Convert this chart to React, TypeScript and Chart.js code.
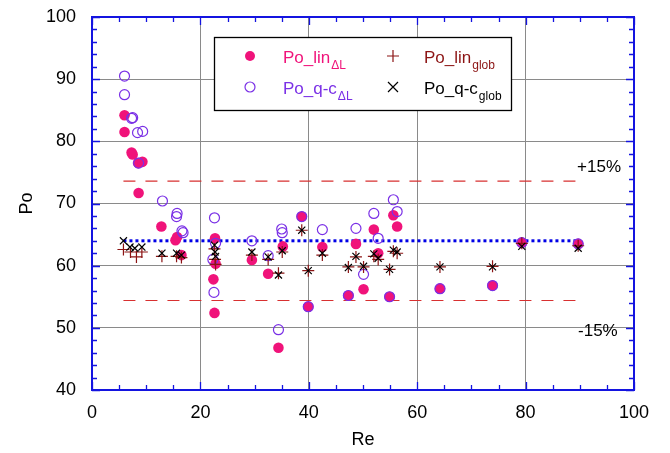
import React, { useEffect, useRef } from 'react';
import { Chart, registerables } from 'chart.js';

Chart.register(...registerables);

// ---------- data ----------
const xTickValues = [0, 20, 40, 60, 80, 100];
const yTickValues = [40, 50, 60, 70, 80, 90, 100];

const linDLx = [6.0, 6.0, 7.3, 7.5, 8.5, 9.3, 8.6, 12.8, 15.4, 15.7, 16.5, 22.7, 22.8, 22.4, 22.6, 29.5, 32.5, 35.2, 34.4, 38.7, 39.9, 42.5, 47.3, 48.7, 50.1, 52.0, 52.8, 55.6, 56.3, 54.9, 64.2, 73.9, 79.3, 89.7];
const linDLy = [84.2, 81.5, 78.2, 77.9, 76.5, 76.7, 71.7, 66.3, 64.1, 64.6, 61.7, 64.4, 60.3, 57.8, 52.4, 60.9, 58.7, 63.1, 46.8, 67.9, 53.4, 63.0, 55.2, 63.5, 56.2, 65.8, 62.0, 68.1, 66.3, 55.0, 56.3, 56.8, 63.7, 63.5];

const qcDLx = [6.0, 6.0, 7.3, 7.5, 8.4, 9.35, 8.6, 13.0, 15.7, 15.6, 16.6, 16.8, 22.6, 22.8, 22.3, 22.5, 29.5, 32.5, 35.0, 35.1, 34.4, 38.7, 39.9, 42.5, 47.3, 48.7, 50.1, 52.0, 52.8, 55.6, 56.3, 54.9, 64.2, 73.9, 79.3, 89.7];
const qcDLy = [90.5, 87.5, 83.7, 83.8, 81.4, 81.6, 76.5, 70.4, 68.4, 67.9, 65.6, 65.3, 67.7, 63.6, 61.0, 55.7, 64.0, 61.6, 65.9, 65.3, 49.7, 67.9, 53.4, 65.8, 55.2, 66.0, 58.6, 68.4, 64.4, 70.6, 68.7, 55.0, 56.3, 56.8, 63.7, 63.5];

const linGlobX = [5.8, 7.1, 8.2, 9.2, 12.9, 15.6, 16.5, 22.6, 22.7, 22.8, 29.5, 32.5, 35.1, 34.4, 38.7, 39.9, 42.5, 47.3, 48.7, 50.1, 52.0, 52.8, 55.6, 56.3, 54.9, 64.2, 73.9, 79.3, 89.7];
const linGlobY = [62.6, 62.2, 61.4, 62.2, 61.5, 61.5, 61.3, 62.7, 61.0, 60.2, 61.7, 61.0, 62.2, 58.8, 65.7, 59.2, 61.7, 59.8, 61.4, 59.8, 61.5, 61.0, 62.3, 62.0, 59.4, 59.8, 59.9, 63.6, 63.2];

const qcGlobX = [5.8, 7.0, 7.9, 9.2, 12.9, 15.6, 16.5, 22.6, 22.7, 22.8, 29.5, 32.5, 35.1, 34.4, 38.7, 39.9, 42.5, 47.3, 48.7, 50.1, 52.0, 52.8, 55.6, 56.3, 54.9, 64.2, 73.9, 79.3, 89.7];
const qcGlobY = [64.0, 63.0, 62.8, 63.0, 62.0, 62.0, 61.7, 63.3, 62.2, 61.5, 62.2, 61.4, 62.4, 58.5, 65.7, 59.2, 62.0, 59.7, 61.5, 59.9, 61.9, 61.2, 62.5, 62.2, 59.4, 59.8, 59.8, 63.1, 62.8];

const refLineX = [5.8, 89.7];
const refValue = 64;
const upperValue = 73.6;
const lowerValue = 54.4;

const bandLabels = ['+15%', '-15%'];
const bandLabelX = [97.6, 97.0];
const bandLabelY = [75.8, 49.4];

// ---------- styles ----------
const PINK = '#f0137a';
const PURPLE = '#7a30e6';
const DARKRED = '#8c1414';
const AXIS = '#1414e0';
const FONT = "'Liberation Sans', Arial, Helvetica, sans-serif";

const pts = (xs: number[], ys: number[]) => xs.map((x, i) => ({ x, y: ys[i] }));

const framePlugin = {
  id: 'frame',
  afterDatasetsDraw(chart: any) {
    const { ctx, chartArea: a, scales } = chart;
    const x = scales.x;
    const y = scales.y;
    ctx.save();
    ctx.strokeStyle = AXIS;
    ctx.lineWidth = 1.3;
    ctx.beginPath();
    for (let v = 0; v <= 100; v += 5) {
      const px = Math.round(x.getPixelForValue(v)) + 0.5;
      const len = v % 20 === 0 ? 8 : 5;
      ctx.moveTo(px, a.bottom);
      ctx.lineTo(px, a.bottom - len);
      ctx.moveTo(px, a.top);
      ctx.lineTo(px, a.top + len);
    }
    for (let v = 40; v <= 100; v += 2) {
      const py = Math.round(y.getPixelForValue(v)) + 0.5;
      const len = v % 10 === 0 ? 8 : 5;
      ctx.moveTo(a.left, py);
      ctx.lineTo(a.left + len, py);
      ctx.moveTo(a.right, py);
      ctx.lineTo(a.right - len, py);
    }
    ctx.stroke();
    ctx.lineWidth = 2;
    ctx.strokeRect(a.left, a.top, a.right - a.left, a.bottom - a.top);
    ctx.restore();
  },
};

const textPlugin = {
  id: 'texts',
  afterDraw(chart: any) {
    const { ctx, scales } = chart;
    const x = scales.x;
    const y = scales.y;
    ctx.save();
    // band labels
    ctx.font = `17px ${FONT}`;
    ctx.fillStyle = '#000';
    ctx.textAlign = 'right';
    ctx.textBaseline = 'middle';
    bandLabels.forEach((t, i) => {
      ctx.fillText(t, x.getPixelForValue(bandLabelX[i]), y.getPixelForValue(bandLabelY[i]));
    });

    // legend box
    const L = 214, T = 37, R = 511, B = 110;
    ctx.fillStyle = '#fff';
    ctx.fillRect(L, T, R - L, B - T);
    ctx.strokeStyle = '#000';
    ctx.lineWidth = 1.3;
    ctx.strokeRect(L + 0.5, T + 0.5, R - L, B - T);

    const rows = [56, 87];
    ctx.beginPath();
    ctx.fillStyle = PINK;
    ctx.arc(250, rows[0], 5, 0, Math.PI * 2);
    ctx.fill();
    ctx.beginPath();
    ctx.strokeStyle = PURPLE;
    ctx.lineWidth = 1.2;
    ctx.arc(250, rows[1], 5, 0, Math.PI * 2);
    ctx.stroke();
    ctx.beginPath();
    ctx.strokeStyle = DARKRED;
    ctx.lineWidth = 1.2;
    ctx.moveTo(393, rows[0] - 6);
    ctx.lineTo(393, rows[0] + 6);
    ctx.moveTo(387, rows[0]);
    ctx.lineTo(399, rows[0]);
    ctx.stroke();
    ctx.beginPath();
    ctx.strokeStyle = '#000';
    ctx.moveTo(388, rows[1] - 5);
    ctx.lineTo(398, rows[1] + 5);
    ctx.moveTo(398, rows[1] - 5);
    ctx.lineTo(388, rows[1] + 5);
    ctx.stroke();

    const entries = [
      { x: 283, row: 0, main: 'Po_lin', sub: 'ΔL', color: PINK },
      { x: 283, row: 1, main: 'Po_q-c', sub: 'ΔL', color: PURPLE },
      { x: 424, row: 0, main: 'Po_lin', sub: 'glob', color: DARKRED },
      { x: 424, row: 1, main: 'Po_q-c', sub: 'glob', color: '#000' },
    ];
    ctx.textAlign = 'left';
    ctx.textBaseline = 'alphabetic';
    entries.forEach((e) => {
      const base = rows[e.row] + 7;
      ctx.fillStyle = e.color;
      ctx.font = `17px ${FONT}`;
      ctx.fillText(e.main, e.x, base);
      const w = ctx.measureText(e.main).width;
      ctx.font = `12px ${FONT}`;
      ctx.fillText(e.sub, e.x + w + 1, base + 6);
    });
    ctx.restore();
  },
};

export default function App() {
  const ref = useRef<HTMLCanvasElement | null>(null);

  useEffect(() => {
    if (!ref.current) return;
    const chart = new Chart(ref.current, {
      type: 'scatter',
      data: {
        datasets: [
          {
            label: 'Po_q-c_glob',
            data: pts(qcGlobX, qcGlobY),
            pointStyle: 'crossRot',
            radius: 5,
            borderColor: '#000',
            borderWidth: 1.2,
            order: 1,
          } as any,
          {
            label: 'Po_lin_glob',
            data: pts(linGlobX, linGlobY),
            pointStyle: 'cross',
            radius: 6,
            borderColor: DARKRED,
            borderWidth: 1.2,
            order: 2,
          },
          {
            label: 'Po_q-c_dL',
            data: pts(qcDLx, qcDLy),
            pointStyle: 'circle',
            radius: 5,
            borderColor: PURPLE,
            backgroundColor: 'rgba(0,0,0,0)',
            borderWidth: 1.2,
            order: 3,
          },
          {
            label: 'Po_lin_dL',
            data: pts(linDLx, linDLy),
            pointStyle: 'circle',
            radius: 5.3,
            borderColor: PINK,
            backgroundColor: PINK,
            borderWidth: 0,
            order: 4,
          },
          {
            type: 'line',
            label: 'ref',
            data: refLineX.map((x) => ({ x, y: refValue })),
            borderColor: '#0000e6',
            borderWidth: 3,
            borderDash: [3, 3],
            pointRadius: 0,
            order: 5,
          } as any,
          {
            type: 'line',
            label: 'upper',
            data: refLineX.map((x) => ({ x, y: upperValue })),
            borderColor: '#d83030',
            borderWidth: 1.2,
            borderDash: [12, 10],
            pointRadius: 0,
            order: 6,
          } as any,
          {
            type: 'line',
            label: 'lower',
            data: refLineX.map((x) => ({ x, y: lowerValue })),
            borderColor: '#d83030',
            borderWidth: 1.2,
            borderDash: [12, 10],
            pointRadius: 0,
            order: 7,
          } as any,
        ],
      },
      options: {
        animation: false,
        responsive: false,
        maintainAspectRatio: false,
        events: [],
        layout: { padding: { left: 0, top: 17, right: 36, bottom: 2 } },
        plugins: { legend: { display: false }, tooltip: { enabled: false } },
        scales: {
          x: {
            type: 'linear',
            min: 0,
            max: 100,
            afterBuildTicks: (s: any) => {
              s.ticks = xTickValues.map((v) => ({ value: v }));
            },
            afterFit: (s: any) => {
              s.height = 61;
              s.paddingLeft = 0;
              s.paddingRight = 0;
            },
            ticks: { color: '#000', font: { family: FONT, size: 18 }, padding: 12, maxRotation: 0, autoSkip: false },
            grid: { color: '#8a8a8a', lineWidth: 1, drawTicks: false },
            border: { display: false },
            title: { display: true, text: 'Re', color: '#000', font: { family: FONT, size: 18 }, padding: 0 },
          },
          y: {
            type: 'linear',
            min: 40,
            max: 100,
            afterBuildTicks: (s: any) => {
              s.ticks = yTickValues.map((v) => ({ value: v }));
            },
            afterFit: (s: any) => {
              s.width = 92;
              s.paddingTop = 0;
              s.paddingBottom = 0;
            },
            ticks: { color: '#000', font: { family: FONT, size: 18 }, padding: 16, autoSkip: false },
            grid: { color: '#8a8a8a', lineWidth: 1, drawTicks: false },
            border: { display: false },
            title: { display: true, text: 'Po', color: '#000', font: { family: FONT, size: 18 }, padding: { top: 16, bottom: 0 } },
          },
        },
      },
      plugins: [framePlugin, textPlugin],
    });
    return () => chart.destroy();
  }, []);

  return (
    <div style={{ position: 'absolute', left: 0, top: 0, width: 670, height: 453 }}>
      <canvas ref={ref} width={670} height={453} style={{ width: 670, height: 453 }} />
    </div>
  );
}
